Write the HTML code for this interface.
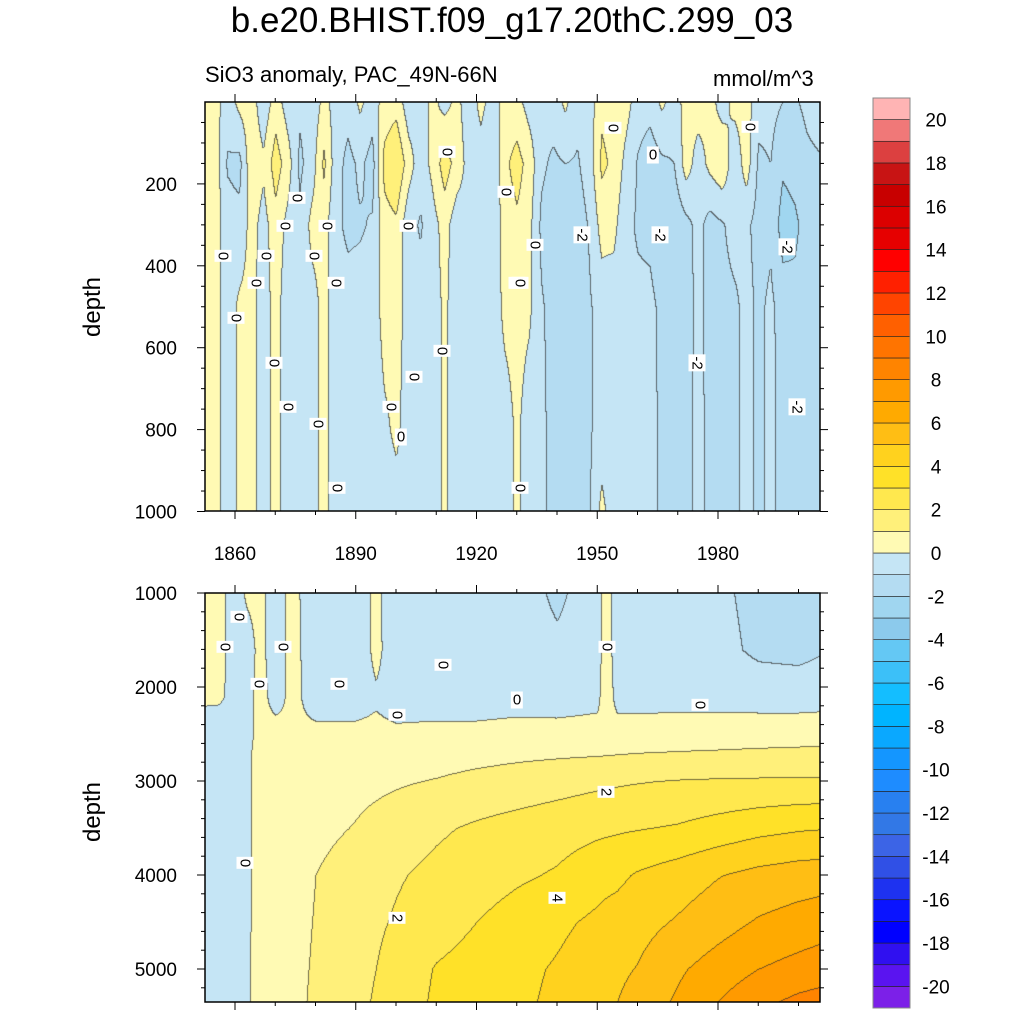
<!DOCTYPE html>
<html><head><meta charset="utf-8">
<style>
html,body{margin:0;padding:0;background:#fff;}
#root{position:relative;width:1024px;height:1024px;overflow:hidden;font-family:"Liberation Sans",sans-serif;color:#000;}
.t{position:absolute;white-space:nowrap;}
canvas{position:absolute;}
.lbl{position:absolute;background:#fff;font-size:15px;line-height:15px;padding:1px 2px;transform:translate(-50%,-50%);}
.rot{transform:translate(-50%,-50%) rotate(90deg);}
</style></head>
<body>
<div id="root">
<div class="t" style="left:0;width:1024px;text-align:center;top:1px;font-size:35px;">b.e20.BHIST.f09_g17.20thC.299_03</div>
<div class="t" style="left:205px;top:62px;font-size:22px;">SiO3 anomaly, PAC_49N-66N</div>
<div class="t" style="left:713px;top:66px;font-size:22px;">mmol/m^3</div>
<div class="t" style="left:93px;top:307px;font-size:24px;transform:translate(-50%,-50%) rotate(-90deg);">depth</div>
<div class="t" style="left:93px;top:812px;font-size:24px;transform:translate(-50%,-50%) rotate(-90deg);">depth</div>
<canvas id="c1" width="615" height="409" style="left:205px;top:102px;"></canvas>
<canvas id="c2" width="615" height="409" style="left:205px;top:593px;"></canvas>
<svg id="ax" width="1024" height="1024" style="position:absolute;left:0;top:0;"></svg>
<div id="labels"></div>
</div>
<script>
// ---- data ----
const levelColors = ["#7c20e8","#5a14f0","#3010f0","#0000ff","#0a14ff","#1e32f0","#3050e6","#3c64e6","#3278e6","#2880f0","#1e8cff","#1496ff","#0aa8ff","#00b4ff","#14beff","#3cc0f8","#64c8f4","#8ccaec","#a0d6f0","#b4dcf2","#c5e5f5","#fffab4","#fff07a","#ffe84e","#ffe128","#ffd21e","#ffbe14","#ffaa00","#ff9a00","#ff8400","#ff7400","#ff6000","#ff4400","#ff2000","#ff0000","#e60000","#dc0000","#c80000","#c81414","#dc4040","#f07878","#ffb4b4"];
const colorbarLabels = [20,18,16,14,12,10,8,6,4,2,0,-2,-4,-6,-8,-10,-12,-14,-16,-18,-20];
const xTickLabels = [1860,1890,1920,1950,1980];
const topDepthLabels = [200,400,600,800,1000];
const botDepthLabels = [1000,2000,3000,4000,5000];

const topYears = [1852,1855,1858,1861,1864,1867,1870,1873,1876,1879,1882,1885,1888,1891,1894,1897,1900,1903,1906,1909,1912,1915,1918,1921,1924,1927,1930,1933,1936,1939,1942,1945,1948,1951,1954,1957,1960,1963,1966,1969,1972,1975,1978,1981,1984,1987,1990,1993,1996,1999,2002,2005];
const topDepths = [0,150,300,500,800,1000];
const topRow0 = [0.3,0.4,-0.6,0.3,0.5,-0.7,0.5,-0.5,-0.8,-0.7,0.3,-0.4,-0.6,0.2,-0.5,0.4,0.6,-0.6,-0.5,0.3,-0.4,0.3,-0.6,0.3,-0.5,0.4,0.3,-0.4,-0.6,-0.5,0.2,-0.7,-0.5,0.8,0.6,0.4,-0.5,-0.6,0.2,-0.5,0.4,0.5,0.3,-0.4,0.3,0.4,-0.6,-0.7,-1.0,-1.1,-0.8,-0.6];
const topRow150 = [0.5,0.6,-1.1,-1.3,0.8,0.2,1.5,0.5,-1.2,-0.5,1.2,-0.6,-1.3,-0.8,-1.4,1.3,2.0,0.5,-0.6,0.3,1.5,0.6,-0.4,-0.5,-0.8,0.8,1.4,0.6,-0.8,-1.2,-1.0,-1.1,-0.5,1.2,0.8,-0.3,-1.1,-1.6,-1.2,-1.0,0.5,-0.5,0.3,0.8,-0.7,0.5,-1.2,-1.0,-1.8,-1.6,-1.2,-1.1];
const topRow300 = [0.4,0.5,-0.6,-0.7,0.4,-0.4,0.6,-0.3,-0.8,0.3,0.4,-0.8,-1.2,-1.1,-0.9,0.6,0.8,-0.7,-1.1,-0.4,0.4,-0.6,-0.3,-1.0,-0.8,0.5,0.8,0.3,-1.2,-1.6,-1.7,-1.5,-0.9,0.4,0.3,-0.8,-1.1,-1.2,-1.6,-1.8,-1.3,-0.7,-1.4,-1.1,-0.6,-0.8,-1.4,-1.2,-2.5,-2.2,-1.6,-1.4];
const topRow500 = [0.3,0.4,-0.5,0.2,0.3,-0.5,0.4,-0.6,-0.5,-0.4,0.3,-0.5,-0.6,-0.6,-0.6,0.4,0.5,-0.5,-0.6,-0.5,0.2,-0.6,-0.6,-0.6,-0.6,0.3,0.4,0.2,-0.9,-1.3,-1.6,-1.4,-1.1,-0.6,-0.6,-0.8,-0.8,-0.8,-1.2,-1.5,-1.3,-0.8,-1.3,-1.3,-1.2,-0.7,-1.2,-0.8,-1.4,-1.7,-1.5,-1.3];
const topRow800 = [0.3,0.4,-0.5,0.2,0.3,-0.5,0.4,-0.6,-0.5,-0.4,0.3,-0.5,-0.6,-0.6,-0.6,-0.2,0.2,-0.5,-0.6,-0.6,0.2,-0.6,-0.6,-0.6,-0.6,-0.5,0.2,-0.6,-0.8,-1.3,-1.3,-1.3,-1.1,-0.6,-0.6,-0.8,-0.8,-0.7,-1.2,-1.3,-1.2,-0.8,-1.2,-1.3,-1.2,-0.7,-1.2,-0.8,-1.3,-1.6,-1.5,-1.3];
const topRow1000 = [0.3,0.4,-0.5,0.2,0.3,-0.5,0.4,-0.6,-0.5,-0.4,0.3,-0.5,-0.6,-0.6,-0.6,-0.5,-0.4,-0.5,-0.6,-0.6,0.2,-0.6,-0.6,-0.6,-0.6,-0.5,0.2,-0.6,-0.8,-1.3,-1.3,-1.3,-1.1,0.3,-0.6,-0.8,-0.8,-0.7,-1.2,-1.3,-1.2,-0.8,-1.2,-1.3,-1.2,-0.7,-1.2,-0.8,-1.3,-1.6,-1.5,-1.3];

const botYears = [1852,1856,1860,1863,1866,1870,1874,1880,1890,1895,1900,1910,1920,1930,1940,1950,1952,1955,1960,1970,1980,1990,2000,2005];
const botDepths = [1000,1600,2100,2400,2700,3000,3500,4000,4500,5000,5350];
const botRow1000 = [0.3,0.3,-0.5,0.2,0.3,-0.5,0.3,-0.6,-0.5,0.2,-0.6,-0.4,-0.6,-0.5,-1.2,-0.4,0.5,-0.6,-0.6,-0.6,-0.8,-1.3,-1.4,-1.2];
const botRow1600 = [0.3,0.3,-0.5,-0.5,0.3,-0.5,0.3,-0.5,-0.5,0.2,-0.5,-0.5,-0.6,-0.5,-0.8,-0.4,0.5,-0.5,-0.6,-0.6,-0.7,-1.2,-1.3,-1.1];
const botRow2100 = [0.3,0.2,-0.4,-0.3,0.3,-0.3,0.2,-0.3,-0.3,-0.1,-0.3,-0.3,-0.3,-0.25,-0.3,-0.2,0.5,-0.3,-0.3,-0.3,-0.3,-0.4,-0.4,-0.4];
const botRow2400 = [-0.6,-0.5,-0.4,-0.2,0.2,0.15,0.1,0.05,0.05,0.1,0.02,0.05,0.05,0.1,0.1,0.15,0.3,0.2,0.2,0.25,0.25,0.3,0.3,0.35];
const botRow2700 = [-0.6,-0.5,-0.3,-0.05,0.1,0.2,0.3,0.35,0.45,0.5,0.55,0.6,0.7,0.8,0.85,0.9,0.92,0.95,1.0,1.05,1.1,1.15,1.2,1.2];
const botRow3000 = [-0.6,-0.5,-0.3,-0.05,0.1,0.25,0.4,0.55,0.75,0.82,0.9,1.05,1.25,1.4,1.6,1.8,1.83,1.88,1.95,2.05,2.1,2.12,2.14,2.15];
const botRow3500 = [-0.6,-0.5,-0.3,-0.05,0.1,0.3,0.5,0.75,1.05,1.25,1.45,1.85,2.15,2.4,2.6,2.8,2.83,2.88,2.95,3.1,3.4,3.7,3.9,3.95];
const botRow4000 = [-0.6,-0.5,-0.3,-0.05,0.12,0.35,0.65,1.0,1.45,1.7,1.9,2.25,2.55,2.85,3.1,3.6,3.7,3.8,4.1,4.5,4.95,5.3,5.5,5.55];
const botRow4500 = [-0.6,-0.5,-0.3,-0.05,0.12,0.4,0.7,1.05,1.6,1.85,2.1,2.55,3.0,3.4,3.8,4.2,4.3,4.4,4.65,5.1,5.6,6.1,6.4,6.55];
const botRow5000 = [-0.6,-0.5,-0.3,-0.05,0.15,0.45,0.75,1.1,1.7,2.0,2.4,3.07,3.4,3.75,4.1,4.55,4.65,4.8,5.05,5.85,6.45,7.0,7.35,7.5];
const botRow5350 = [-0.6,-0.5,-0.3,-0.05,0.15,0.45,0.75,1.15,1.75,2.1,2.5,3.15,3.5,3.8,4.2,4.75,4.85,5.0,5.4,6.15,7.0,7.75,8.25,8.4];

const topGrid = [topRow0,topRow150,topRow300,topRow500,topRow800,topRow1000];
const botGrid = [botRow1000,botRow1600,botRow2100,botRow2400,botRow2700,botRow3000,botRow3500,botRow4000,botRow4500,botRow5000,botRow5350];

// ---- scales ----
const PX0 = 205, PW = 615;
function xOfYear(yr){ return 235 + (yr-1860)*4.025; }
function yearOfX(x){ return 1860 + (x-235)/4.025; }
function yTop(d){ return 102 + d*0.4095; }
function dTop(y){ return (y-102)/0.4095; }
function yBot(d){ return 593 + (d-1000)*0.094; }
function dBot(y){ return 1000 + (y-593)/0.094; }
function cbY(v){ return 553 - v*21.67; }

function hex(c){ return [parseInt(c.substr(1,2),16),parseInt(c.substr(3,2),16),parseInt(c.substr(5,2),16)]; }
const rgb = levelColors.map(hex);

function idx(arr,v){ let i=0; while(i<arr.length-2 && v>arr[i+1]) i++; return i; }
function sample(xs,ys,grid,x,y){
  x=Math.max(xs[0],Math.min(xs[xs.length-1],x));
  y=Math.max(ys[0],Math.min(ys[ys.length-1],y));
  const i=idx(xs,x), j=idx(ys,y);
  const tx=(x-xs[i])/(xs[i+1]-xs[i]), ty=(y-ys[j])/(ys[j+1]-ys[j]);
  const a=grid[j][i], b=grid[j][i+1], c=grid[j+1][i], d=grid[j+1][i+1];
  return (a*(1-tx)+b*tx)*(1-ty)+(c*(1-tx)+d*tx)*ty;
}
function render(id,xs,ys,grid,top,depthOf){
  const cv=document.getElementById(id), ctx=cv.getContext('2d');
  const W=cv.width,H=cv.height, img=ctx.createImageData(W,H);
  const lev=new Int16Array(W*H);
  for(let py=0;py<H;py++){ const d=depthOf(top+py+0.5);
    for(let px=0;px<W;px++){ const v=sample(xs,ys,grid,yearOfX(PX0+px+0.5),d);
      lev[py*W+px]=Math.max(0,Math.min(41,Math.floor(v)+21)); } }
  for(let p=0;p<W*H;p++){ const px=p%W, py=(p-px)/W; let c=rgb[lev[p]];
    const L=lev[p]; let edge=false;
    if(px>0 && lev[p-1]!==L) edge=true;
    if(py>0 && lev[p-W]!==L) edge=true;
    const o=p*4;
    if(edge){ img.data[o]=c[0]*0.3+35; img.data[o+1]=c[1]*0.3+35; img.data[o+2]=c[2]*0.3+35; }
    else { img.data[o]=c[0]; img.data[o+1]=c[1]; img.data[o+2]=c[2]; }
    img.data[o+3]=255; }
  ctx.putImageData(img,0,0);
}
render('c1',topYears,topDepths,topGrid,102,dTop);
render('c2',botYears,botDepths,botGrid,593,dBot);

// ---- axes ----
const NS='http://www.w3.org/2000/svg', svg=document.getElementById('ax');
function mk(tag,attrs){ const e=document.createElementNS(NS,tag); for(const k in attrs) e.setAttribute(k,attrs[k]); svg.appendChild(e); return e; }
function line(x1,y1,x2,y2,w){ return mk('line',{x1,y1,x2,y2,stroke:'#000','stroke-width':w||1}); }
function txt(x,y,s,anchor,size){ const e=mk('text',{x,y,'text-anchor':anchor,'font-size':size,'font-family':'Liberation Sans, sans-serif'}); e.textContent=s; return e; }

let f1=mk('rect',{x:205,y:102,width:615,height:409,fill:'none',stroke:'#000','stroke-width':1.5});


let f2=mk('rect',{x:205,y:593,width:615,height:409,fill:'none',stroke:'#000','stroke-width':1.5});


for(let yr=1860; yr<=2000; yr+=10){
  const x=xOfYear(yr), major=((yr-1860)%30===0), L=major?8:4;
  [[102,-1],[511,1],[593,-1],[1002,1]].forEach(([y,s])=>line(x,y,x,y+s*L,1));
}
xTickLabels.forEach(v=>{ const t=txt(xOfYear(v),560,String(v),'middle',19);
  
   });
for(let d=50; d<=1000; d+=50){ const y=yTop(d), major=(d%200===0), L=major?8:4;
  line(205,y,205-L,y); line(820,y,820+L,y); }
topDepthLabels.forEach(v=>{ const t=txt(177,yTop(v)+7,String(v),'end',19);
  
   });
for(let d=1000; d<=5200; d+=200){ const y=yBot(d), major=(d%1000===0), L=major?8:4;
  line(205,y,205-L,y); line(820,y,820+L,y); }
botDepthLabels.forEach(v=>{ const t=txt(177,yBot(v)+7,String(v),'end',19);
  
   });
for(let k=0;k<42;k++){
  const vLow=k-21, yTopB=(k===41)?98:cbY(vLow+1), yBotB=(k===0)?1008:cbY(vLow);
  const r=mk('rect',{x:873,y:yTopB,width:37,height:yBotB-yTopB,fill:levelColors[k],stroke:'#222','stroke-width':0.6});
  
  
}
mk('rect',{x:873,y:98,width:37,height:910,fill:'none',stroke:'#888','stroke-width':1});
colorbarLabels.forEach(v=>{ const t=txt(936,cbY(v)+7,String(v),'middle',19);
  
   });

// ---- contour labels ----
const labelText = ["0","0","0","0","0","0","0","0","0","0","0","0","0","0","0","0","0","0","0","0","0","0","0","0","-2","-2","-2","0","0","-2","-2","0",
 "0","0","0","0","0","0","0","0","0","0","0","2","2","4"];
const labelPos = [[447,152],[297,198],[285,226],[327,226],[408,226],[223,256],[266,256],[314,256],[256,283],[336,283],[236,318],[274,363],[288,407],[318,424],[391,407],[414,377],[442,351],[401,437],[337,488],[506,192],[517,283],[613,128],[653,155],[750,127],[582,235],[660,235],[787,247],[535,245],[520,283],[697,363],[797,407],[520,488],
 [239,617],[225,647],[283,647],[259,684],[339,684],[443,665],[397,715],[517,700],[607,647],[700,705],[245,863],[606,792],[397,918],[557,898]];
const upright = {22:1,39:1,17:1};
const lc=document.getElementById('labels');
labelText.forEach((s,i)=>{
  const e=document.createElement('div');
  e.className='lbl'+(upright[i]?'':' rot');
  e.textContent=s;
  e.style.left=labelPos[i][0]+'px'; e.style.top=labelPos[i][1]+'px';
  
  
  lc.appendChild(e);
});
</script>
</body></html>
